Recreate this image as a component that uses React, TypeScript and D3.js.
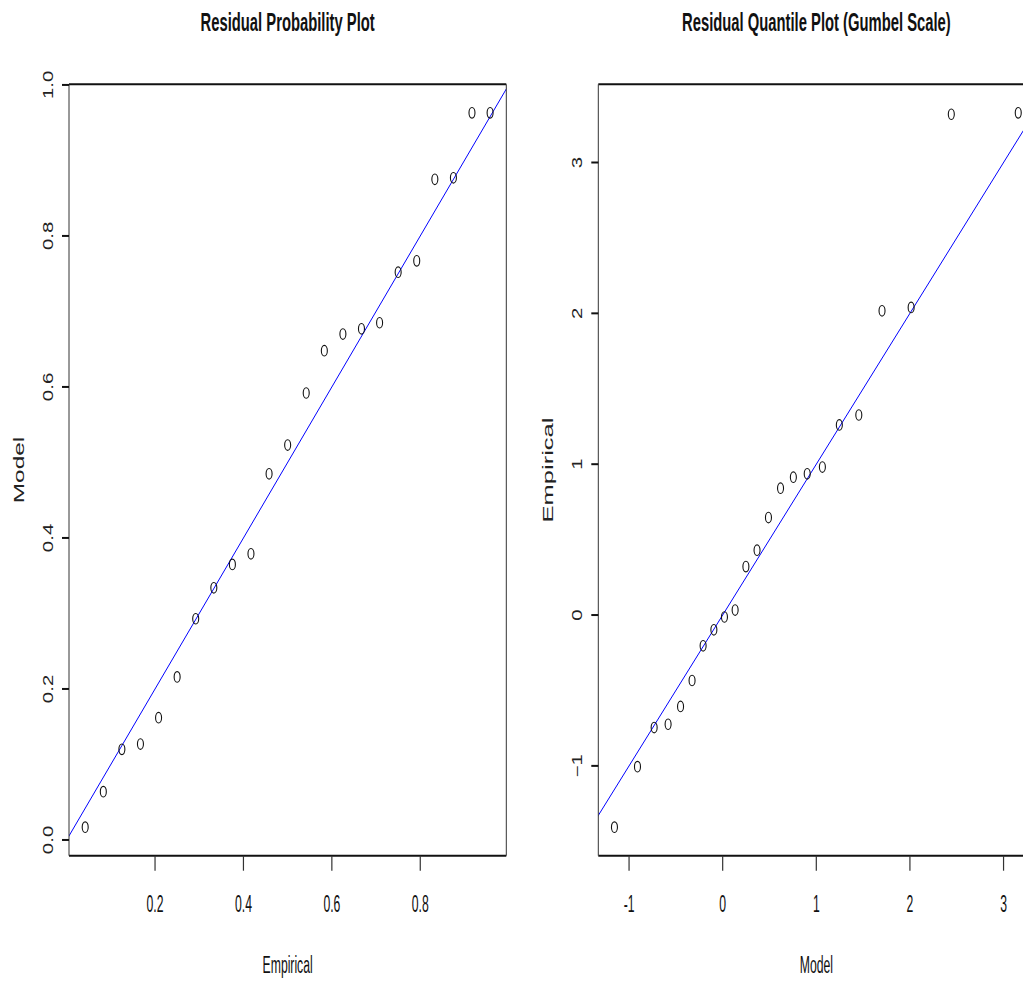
import React from "react";
import * as d3 from "d3";

// Residual probability plot (left): empirical plotting positions vs model probabilities
const probEmpirical = [0.042, 0.083, 0.125, 0.167, 0.208, 0.25, 0.292, 0.333, 0.375, 0.417, 0.458, 0.5, 0.542, 0.583, 0.625, 0.667, 0.708, 0.75, 0.792, 0.833, 0.875, 0.917, 0.958];
const probModel = [0.017, 0.064, 0.12, 0.127, 0.162, 0.216, 0.293, 0.334, 0.365, 0.379, 0.485, 0.523, 0.592, 0.648, 0.67, 0.677, 0.685, 0.752, 0.767, 0.875, 0.877, 0.963, 0.963];

// Residual quantile plot (right, Gumbel scale): model quantiles vs empirical residuals
const quantModel = [-1.156, -0.91, -0.732, -0.583, -0.45, -0.327, -0.209, -0.094, 0.019, 0.133, 0.248, 0.367, 0.489, 0.618, 0.755, 0.903, 1.065, 1.246, 1.454, 1.702, 2.013, 2.442, 3.157];
const quantEmpirical = [-1.406, -1.005, -0.746, -0.724, -0.606, -0.434, -0.204, -0.098, -0.013, 0.033, 0.321, 0.43, 0.646, 0.841, 0.914, 0.936, 0.981, 1.26, 1.326, 2.017, 2.039, 3.32, 3.329];

const probXTicks = [0.2, 0.4, 0.6, 0.8];
const probXTickLabels = ["0.2", "0.4", "0.6", "0.8"];
const probYTicks = [0, 0.2, 0.4, 0.6, 0.8, 1.0];
const probYTickLabels = ["0.0", "0.2", "0.4", "0.6", "0.8", "1.0"];
const quantXTicks = [-1, 0, 1, 2, 3];
const quantXTickLabels = ["-1", "0", "1", "2", "3"];
const quantYTicks = [-1, 0, 1, 2, 3];
const quantYTickLabels = ["\u22121", "0", "1", "2", "3"];

const W = 1023;
const H = 982;
const TOP = 84.3;
const BOTTOM = 855.7;
const FONT = "'Liberation Sans', Arial, Helvetica, sans-serif";

function padExtent(v: number[]): [number, number] {
  const [a, b] = d3.extent(v) as [number, number];
  const p = (b - a) * 0.04;
  return [a - p, b + p];
}

type PanelProps = {
  id: string;
  left: number;
  right: number;
  xs: number[];
  ys: number[];
  xTicks: number[];
  xTickLabels: string[];
  yTicks: number[];
  yTickLabels: string[];
  title: string;
  xLabel: string;
  yLabel: string;
  yLabelScale: number;
};

function HText({ x, y, text, size, sy, bold }: { x: number; y: number; text: string; size: number; sy: number; bold?: boolean }) {
  return (
    <text
      transform={`translate(${x},${y}) scale(1,${sy})`}
      fontSize={size}
      fontFamily={FONT}
      fontWeight={bold ? "bold" : "normal"}
      textAnchor="middle"
      fill="#111"
    >
      {text}
    </text>
  );
}

function VText({ x, y, text, size, sl }: { x: number; y: number; text: string; size: number; sl: number }) {
  return (
    <text
      transform={`translate(${x},${y}) rotate(-90) scale(${sl},1)`}
      fontSize={size}
      fontFamily={FONT}
      textAnchor="middle"
      fill="#222"
    >
      {text}
    </text>
  );
}

function Panel(p: PanelProps) {
  const xDom = padExtent(p.xs);
  const yDom = padExtent(p.ys);
  const x = d3.scaleLinear().domain(xDom).range([p.left, p.right]);
  const y = d3.scaleLinear().domain(yDom).range([BOTTOM, TOP]);
  const lo = Math.min(xDom[0], yDom[0]) - 1;
  const hi = Math.max(xDom[1], yDom[1]) + 1;
  const line = d3.line<number>().x((d) => x(d)).y((d) => y(d));
  const cx = (p.left + p.right) / 2;
  const cy = (TOP + BOTTOM) / 2;
  return (
    <g>
      <defs>
        <clipPath id={p.id}>
          <rect x={p.left} y={TOP} width={p.right - p.left} height={BOTTOM - TOP} />
        </clipPath>
      </defs>
      <path d={line([lo, hi]) || ""} stroke="#0000ff" strokeWidth={1} fill="none" clipPath={`url(#${p.id})`} />
      {p.xs.map((d, i) => (
        <ellipse key={i} cx={x(d)} cy={y(p.ys[i])} rx={3} ry={5.3} fill="none" stroke="#111" strokeWidth={1.1} />
      ))}
      {/* box */}
      <line x1={p.left} x2={p.right} y1={TOP} y2={TOP} stroke="#111" strokeWidth={2} />
      <line x1={p.left} x2={p.right} y1={BOTTOM} y2={BOTTOM} stroke="#111" strokeWidth={2} />
      <line x1={p.left} x2={p.left} y1={TOP} y2={BOTTOM} stroke="#333" strokeWidth={1} />
      <line x1={p.right} x2={p.right} y1={TOP} y2={BOTTOM} stroke="#333" strokeWidth={1} />
      {/* x ticks */}
      {p.xTicks.map((t, i) => (
        <g key={"xt" + i}>
          <line x1={x(t)} x2={x(t)} y1={BOTTOM} y2={BOTTOM + 15} stroke="#333" strokeWidth={1.2} />
          <HText x={x(t)} y={911.7} text={p.xTickLabels[i]} size={12.2} sy={2.0} />
        </g>
      ))}
      {/* y ticks */}
      {p.yTicks.map((t, i) => (
        <g key={"yt" + i}>
          <line x1={p.left - 7} x2={p.left} y1={y(t)} y2={y(t)} stroke="#111" strokeWidth={2} />
          <VText x={p.left - 16} y={y(t)} text={p.yTickLabels[i]} size={14} sl={1.46} />
        </g>
      ))}
      <HText x={cx} y={973.3} text={p.xLabel} size={12.2} sy={2.0} />
      <VText x={p.left - 45} y={cy} text={p.yLabel} size={15} sl={p.yLabelScale} />
      <HText x={cx} y={31} text={p.title} size={14.8} sy={1.7} bold />
    </g>
  );
}

export default function App() {
  return (
    <svg
      width={W}
      height={H}
      style={{ position: "absolute", left: 0, top: 0, background: "#fff" }}
    >
      <rect x={0} y={0} width={W} height={H} fill="#fff" />
      <Panel
        id="clipL"
        left={69}
        right={506.3}
        xs={probEmpirical}
        ys={probModel}
        xTicks={probXTicks}
        xTickLabels={probXTickLabels}
        yTicks={probYTicks}
        yTickLabels={probYTickLabels}
        title="Residual Probability Plot"
        xLabel="Empirical"
        yLabel="Model"
        yLabelScale={1.63}
      />
      <Panel
        id="clipR"
        left={598.3}
        right={1034.4}
        xs={quantModel}
        ys={quantEmpirical}
        xTicks={quantXTicks}
        xTickLabels={quantXTickLabels}
        yTicks={quantYTicks}
        yTickLabels={quantYTickLabels}
        title="Residual Quantile Plot (Gumbel Scale)"
        xLabel="Model"
        yLabel="Empirical"
        yLabelScale={1.7}
      />
    </svg>
  );
}
